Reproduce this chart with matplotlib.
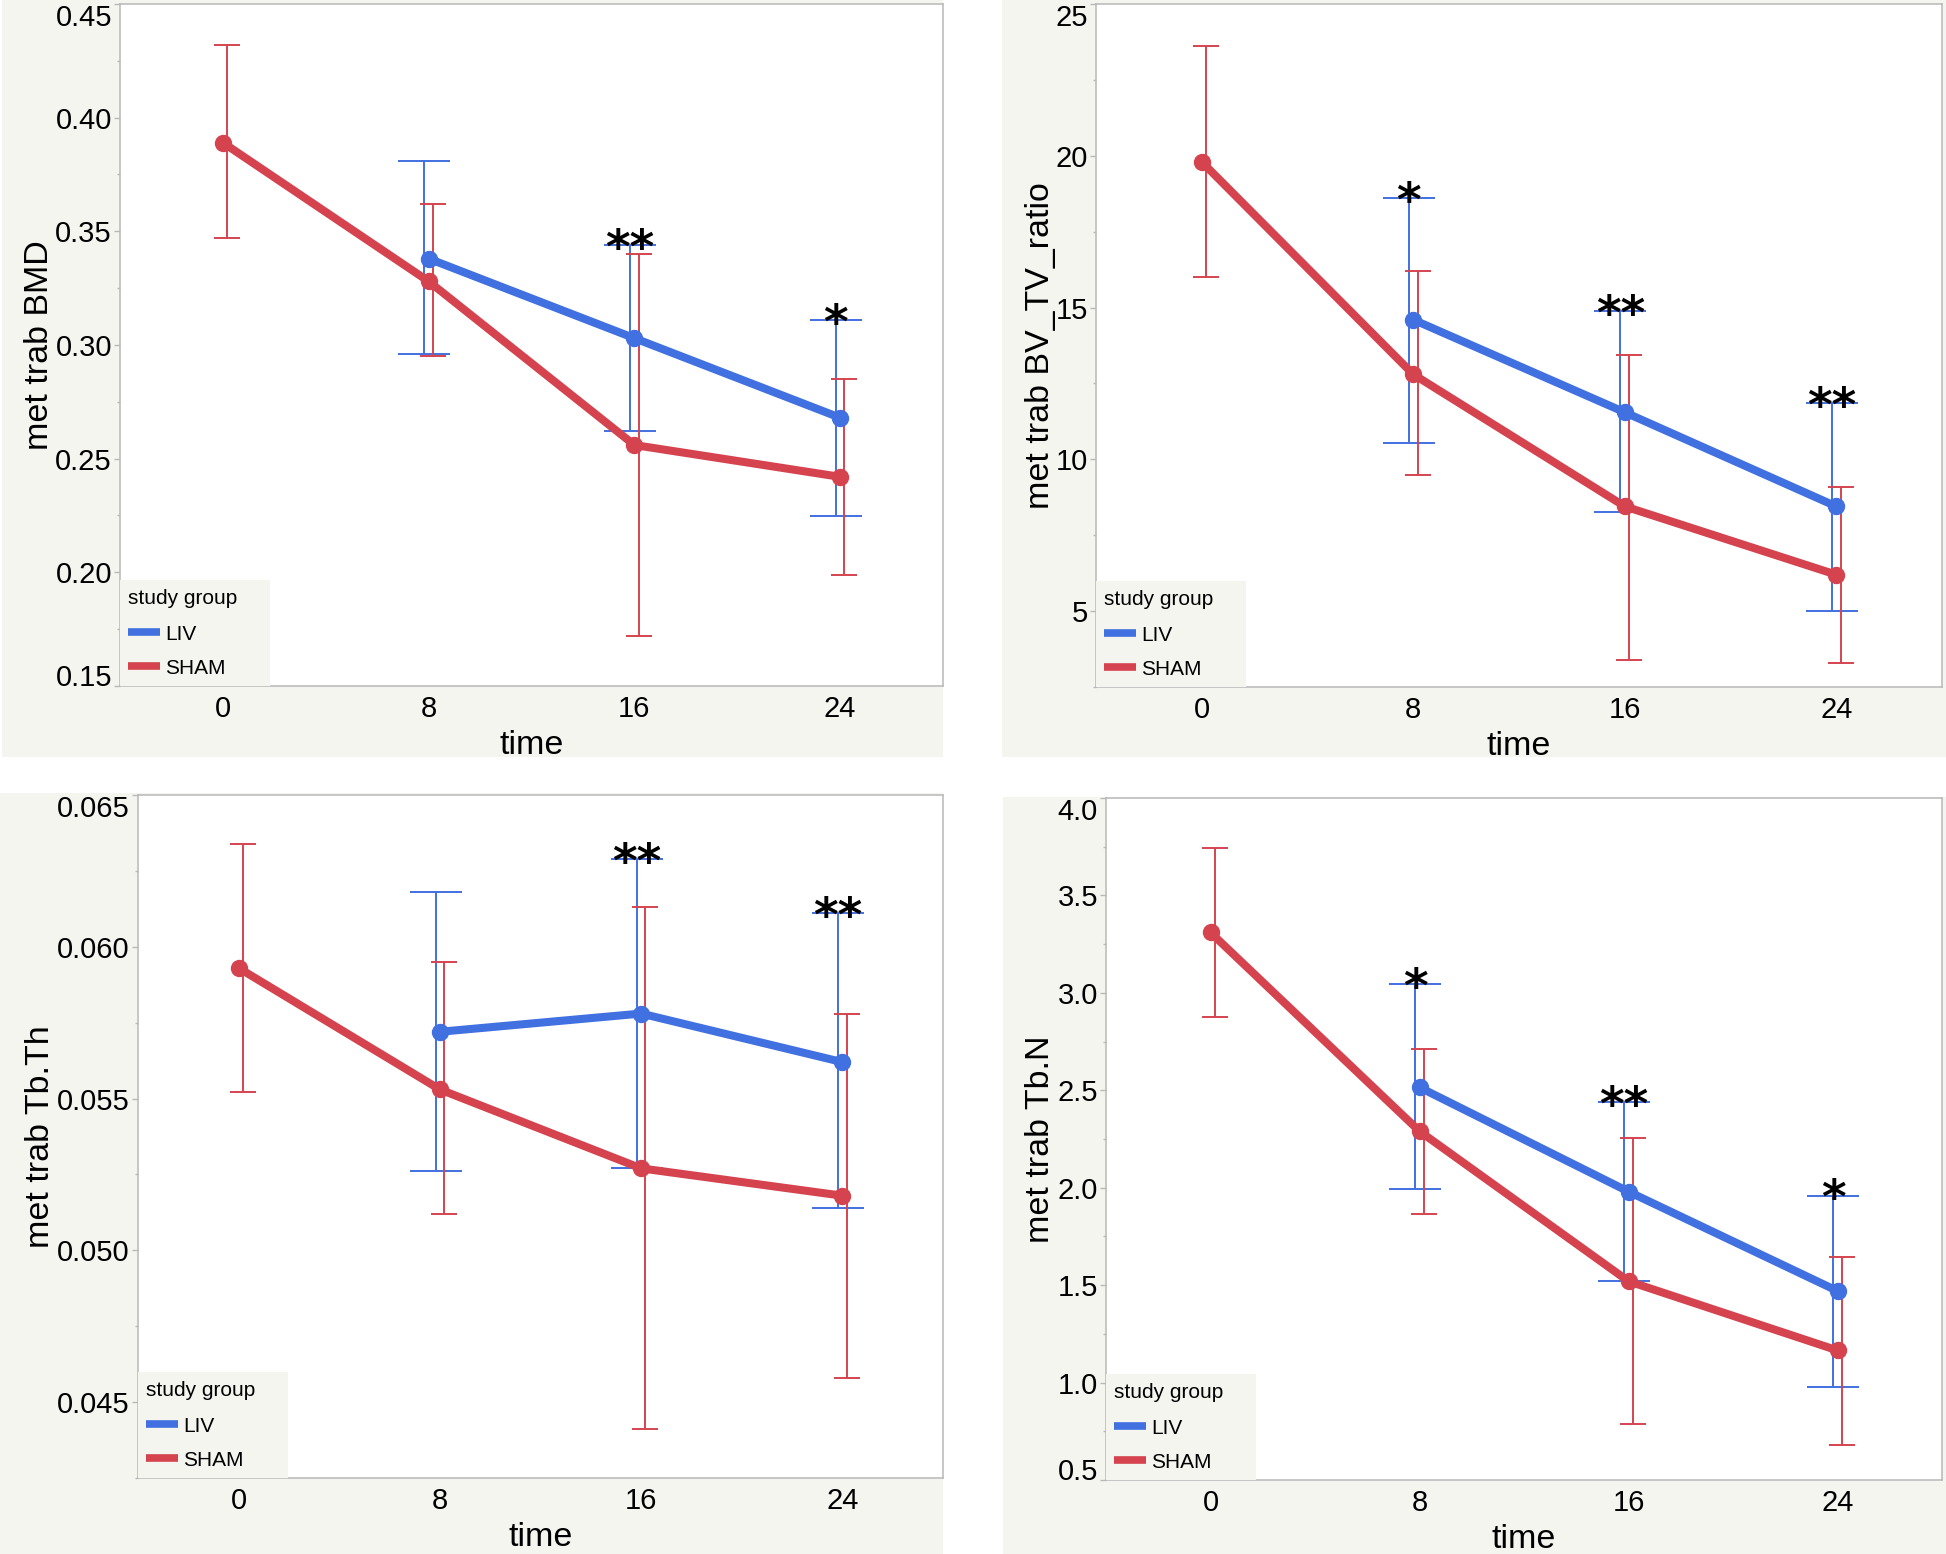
import numpy as np
import matplotlib
matplotlib.use('Agg')
import matplotlib.pyplot as plt
from matplotlib.lines import Line2D
from matplotlib.patches import Rectangle
from matplotlib.ticker import FixedLocator, AutoMinorLocator, FormatStrFormatter

plt.rcParams['font.family'] = ['Liberation Sans', 'DejaVu Sans']

### data
time_points = [0, 8, 16, 24]
liv_times = [8, 16, 24]
time_labels = ['0', '8', '16', '24']

bmd_sham = [0.389, 0.328, 0.256, 0.242]
bmd_sham_lo = [0.347, 0.295, 0.172, 0.199]
bmd_sham_hi = [0.432, 0.362, 0.340, 0.285]
bmd_liv = [0.338, 0.303, 0.268]
bmd_liv_lo = [0.296, 0.262, 0.225]
bmd_liv_hi = [0.381, 0.344, 0.311]
bmd_stars = ['', '**', '*']
bmd_ticks = [0.15, 0.20, 0.25, 0.30, 0.35, 0.40, 0.45]

bvtv_sham = [19.8, 12.8, 8.45, 6.2]
bvtv_sham_lo = [16.0, 9.5, 3.4, 3.3]
bvtv_sham_hi = [23.6, 16.2, 13.45, 9.1]
bvtv_liv = [14.6, 11.55, 8.45]
bvtv_liv_lo = [10.55, 8.25, 5.0]
bvtv_liv_hi = [18.6, 14.9, 11.85]
bvtv_stars = ['*', '**', '**']
bvtv_ticks = [5, 10, 15, 20, 25]

tbth_sham = [0.0593, 0.0553, 0.0527, 0.0518]
tbth_sham_lo = [0.0552, 0.0512, 0.0441, 0.0458]
tbth_sham_hi = [0.0634, 0.0595, 0.0613, 0.0578]
tbth_liv = [0.0572, 0.0578, 0.0562]
tbth_liv_lo = [0.0526, 0.0527, 0.0514]
tbth_liv_hi = [0.0618, 0.0629, 0.0611]
tbth_stars = ['', '**', '**']
tbth_ticks = [0.045, 0.050, 0.055, 0.060, 0.065]

tbn_sham = [3.31, 2.29, 1.52, 1.165]
tbn_sham_lo = [2.875, 1.865, 0.785, 0.68]
tbn_sham_hi = [3.745, 2.71, 2.255, 1.645]
tbn_liv = [2.515, 1.98, 1.47]
tbn_liv_lo = [1.995, 1.52, 0.975]
tbn_liv_hi = [3.045, 2.44, 1.96]
tbn_stars = ['*', '**', '*']
tbn_ticks = [0.5, 1.0, 1.5, 2.0, 2.5, 3.0, 3.5, 4.0]

BLUE = '#4170e0'
RED = '#d5434f'
BEIGE = '#f5f5f0'
SPINE = '#b8b8b8'

W, H = 1946, 1554
fig = plt.figure(figsize=(W / 100, H / 100), dpi=100)
fig.patch.set_facecolor('white')


def fig_rect(l, t, r, b):
    return [l / W, 1 - b / H, (r - l) / W, (b - t) / H]


def draw_panel(box, bg, sham, sham_lo, sham_hi, liv, liv_lo, liv_hi, stars,
               ylabel, ylo, yhi, yticks, yfmt, ylab_x):
    # beige panel background
    l, t, r, b = bg
    fig.add_artist(Rectangle((l / W, 1 - b / H), (r - l) / W, (b - t) / H,
                             transform=fig.transFigure, facecolor=BEIGE,
                             edgecolor='none', zorder=0))
    ax = fig.add_axes(fig_rect(*box))
    ax.set_facecolor('white')
    ax.set_xlim(-4, 28)
    ax.set_ylim(ylo, yhi)

    shift = 0.17
    sham = np.array(sham)
    liv = np.array(liv)
    ax.errorbar(np.array(liv_times) - shift, liv,
                yerr=[liv - np.array(liv_lo), np.array(liv_hi) - liv],
                fmt='none', ecolor=BLUE, elinewidth=1.4, capsize=18.7,
                capthick=1.4, zorder=2)
    ax.errorbar(np.array(time_points) + shift, sham,
                yerr=[sham - np.array(sham_lo), np.array(sham_hi) - sham],
                fmt='none', ecolor=RED, elinewidth=1.4, capsize=9.4,
                capthick=1.4, zorder=2)
    ax.plot(liv_times, liv, color=BLUE, lw=5.8, marker='o', ms=11.5,
            solid_capstyle='round', zorder=3)
    ax.plot(time_points, sham, color=RED, lw=5.8, marker='o', ms=11.5,
            solid_capstyle='round', zorder=3)

    fs_star = 34
    for tt, hi, s in zip(liv_times, liv_hi, stars):
        if s:
            ax.annotate(s, (tt - shift, hi), xytext=(0, -0.38 * fs_star),
                        textcoords='offset points', ha='center', va='baseline',
                        fontsize=fs_star, fontweight='bold',
                        family='DejaVu Sans', zorder=6)

    ax.set_xticks(time_points)
    ax.set_xticklabels(time_labels)
    ax.yaxis.set_major_locator(FixedLocator(yticks))
    ax.yaxis.set_minor_locator(AutoMinorLocator(2))
    ax.yaxis.set_major_formatter(FormatStrFormatter(yfmt))
    ax.tick_params(axis='x', length=0, pad=6.5, labelsize=21)
    ax.tick_params(axis='y', which='major', length=4.3, width=1, color=SPINE,
                   pad=1.5, labelsize=21)
    ax.tick_params(axis='y', which='minor', length=2.2, width=1, color=SPINE)
    for sp in ax.spines.values():
        sp.set_color(SPINE)
        sp.set_linewidth(1.1)

    # keep end labels inside the frame, as in the reference
    ticks = ax.yaxis.get_major_ticks(len(yticks))
    for tk, v in zip(ticks, yticks):
        if abs(v - yhi) < 1e-9:
            tk.label1.set_verticalalignment('top')
        elif abs(v - ylo) < 1e-9:
            tk.label1.set_verticalalignment('baseline')

    ax.set_xlabel('time', fontsize=24.5)
    ax.xaxis.set_label_coords(0.5, -0.064)
    ax.set_ylabel(ylabel, fontsize=24.5)
    ax.yaxis.set_label_coords(ylab_x, 0.5)

    # legend box in the lower left corner
    aw = box[2] - box[0]
    ah = box[3] - box[1]
    ax.add_patch(Rectangle((0, 0), 150 / aw, 106 / ah, transform=ax.transAxes,
                           facecolor=BEIGE, edgecolor='none', zorder=4))
    handles = [Line2D([], [], color=BLUE, lw=5.5, solid_capstyle='butt'),
               Line2D([], [], color=RED, lw=5.5, solid_capstyle='butt')]
    leg = ax.legend(handles, ['LIV', 'SHAM'], title='study group',
                    loc='lower left', bbox_to_anchor=(0, 0), frameon=False,
                    fontsize=15, title_fontsize=15, alignment='left',
                    handlelength=1.5, handletextpad=0.25, labelspacing=0.72,
                    borderpad=0.3, borderaxespad=0.1)
    leg._legend_box.sep = 12
    leg.set_zorder(5)
    return ax


draw_panel((120, 4, 943, 686), (2, 0, 943, 757),
           bmd_sham, bmd_sham_lo, bmd_sham_hi, bmd_liv, bmd_liv_lo, bmd_liv_hi,
           bmd_stars, 'met trab BMD', 0.15, 0.45, bmd_ticks, '%.2f', -0.079)
draw_panel((1096, 4, 1942, 687), (1002, 0, 1946, 757),
           bvtv_sham, bvtv_sham_lo, bvtv_sham_hi, bvtv_liv, bvtv_liv_lo, bvtv_liv_hi,
           bvtv_stars, 'met trab BV_TV_ratio', 2.5, 25.0, bvtv_ticks, '%d', -0.047)
draw_panel((138, 795, 943, 1478), (0, 793, 943, 1554),
           tbth_sham, tbth_sham_lo, tbth_sham_hi, tbth_liv, tbth_liv_lo, tbth_liv_hi,
           tbth_stars, 'met trab Tb.Th', 0.0425, 0.065, tbth_ticks, '%.3f', -0.102)
draw_panel((1106, 798, 1942, 1480), (1003, 797, 1946, 1554),
           tbn_sham, tbn_sham_lo, tbn_sham_hi, tbn_liv, tbn_liv_lo, tbn_liv_hi,
           tbn_stars, 'met trab Tb.N', 0.5, 4.0, tbn_ticks, '%.1f', -0.06)

fig.savefig('out.png', dpi=100, facecolor='white')
